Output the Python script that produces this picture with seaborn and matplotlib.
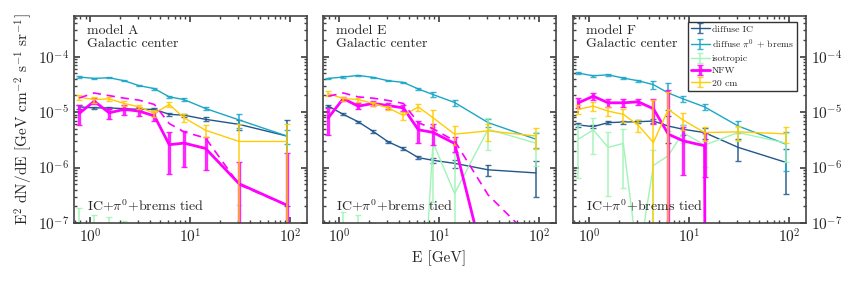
import matplotlib
matplotlib.use("Agg")
import numpy as np
import pandas as pd
import matplotlib.pyplot as plt
from matplotlib.lines import Line2D
import seaborn as sns

# ── Data ──────────────────────────────────────────────────────────────
E_GEV = [0.78, 1.1, 1.55, 2.2, 3.1, 4.4, 6.2, 8.7, 14.3, 31, 93]
ZERO = 1e-200  # bins with no flux

# model A
A_IC = [1.24e-5, 1.19e-5, 1.19e-5, 1.15e-5, 1.12e-5, 1.12e-5, 9.1e-6, 8.8e-6, 7.4e-6, 6.0e-6, 3.7e-6]
A_IC_ERR = [1.0e-6, 5e-7, 5e-7, 5e-7, 5e-7, 5e-7, 5e-7, 6e-7, 6e-7, 1.3e-6, 3.5e-6]
A_PI = [4.28e-5, 4.05e-5, 4.16e-5, 3.67e-5, 2.99e-5, 2.65e-5, 1.88e-5, 1.68e-5, 1.16e-5, 7.2e-6, 3.7e-6]
A_PI_ERR = [1.5e-6, 1.2e-6, 1.2e-6, 1.0e-6, 8e-7, 1e-6, 1e-6, 1e-6, 8e-7, 2e-6, 1e-6]
A_ISO = [4e-8, 3e-8, 3e-8, 2e-8, 1e-8, 1e-8, 1e-8, 1e-8, 1e-8, 5e-8, 2e-8]
A_ISO_ERR = [1.5e-7, 1.1e-7, 1.0e-7, 9e-8, 0, 0, 0, 0, 0, 1.6e-7, 0]
A_NFW = [9.5e-6, 1.57e-5, 9.7e-6, 1.12e-5, 1.04e-5, 8.5e-6, 2.58e-6, 2.76e-6, 2.21e-6, 5.1e-7, 2.1e-7]
A_NFW_ERR = [3.7e-6, 2e-6, 2.2e-6, 2.2e-6, 2e-6, 1.5e-6, 1.8e-6, 1.75e-6, 1.3e-6, 7.7e-7, 1.6e-6]
A_NFW_MODEL = [1.8e-5, 2.21e-5, 1.98e-5, 1.78e-5, 1.64e-5, 1.37e-5, 6.2e-6, 4.4e-6, 3.4e-6, 4.9e-7, 2.1e-7]
A_CM20 = [1.85e-5, 1.68e-5, 1.73e-5, 1.43e-5, 1.24e-5, 9.5e-6, 1.37e-5, 7.9e-6, 4.7e-6, 2.95e-6, 2.95e-6]
A_CM20_ERR = [2e-6, 2e-6, 1.5e-6, 1.3e-6, 1.2e-6, 1.3e-6, 1.5e-6, 1.4e-6, 1.1e-6, 3.2e-6, 3.2e-6]

# model E
E_IC = [1.28e-5, 9.1e-6, 6.7e-6, 4.46e-6, 2.91e-6, 2.18e-6, 1.51e-6, 1.35e-6, 1.19e-6, 9.1e-7, 8.0e-7]
E_IC_ERR = [6e-7, 4e-7, 3e-7, 2e-7, 1.5e-7, 1.2e-7, 1e-7, 1.5e-7, 2e-7, 2.2e-7, 5e-7]
E_PI = [4.05e-5, 4.28e-5, 4.58e-5, 4.22e-5, 3.67e-5, 3.43e-5, 2.61e-5, 2.07e-5, 1.49e-5, 6.45e-6, 3.25e-6]
E_PI_ERR = [1.2e-6, 1.2e-6, 1.2e-6, 1e-6, 1e-6, 1e-6, 1.5e-6, 2e-6, 1.8e-6, 1e-6, 1e-6]
E_ISO = [1e-8, 3e-8, 3e-8, 2e-8, 1e-8, 1e-8, 1e-10, 2.84e-6, 3.4e-7, 4.9e-6, 2.76e-6]
E_ISO_ERR = [0, 1.3e-7, 1.1e-7, 8e-8, 0, 0, 0, 2.6e-6, 1.5e-6, 2.8e-6, 1.7e-6]
E_NFW = [7.9e-6, 1.75e-5, 1.28e-5, 1.43e-5, 1.31e-5, 1.19e-5, 4.8e-6, 4.3e-6, 2.72e-6, 1e-8, ZERO]
E_NFW_ERR = [4e-6, 1.5e-6, 1.5e-6, 1.5e-6, 1.5e-6, 1.5e-6, 2e-6, 1.8e-6, 8e-7, 0, 0]
E_NFW_MODEL = [1.93e-5, 2.21e-5, 1.88e-5, 1.78e-5, 1.62e-5, 1.43e-5, 6.45e-6, 5.0e-6, 3.03e-6, 3.2e-7, 4.5e-8]
E_CM20 = [2.16e-5, 1.75e-5, 1.68e-5, 1.43e-5, 1.19e-5, 8.7e-6, 1.24e-5, 7.9e-6, 4.0e-6, 4.58e-6, 3.7e-6]
E_CM20_ERR = [2e-6, 1.5e-6, 1.3e-6, 1.2e-6, 1.2e-6, 1.5e-6, 1.8e-6, 3e-6, 1.5e-6, 1.6e-6, 1.5e-6]

# model F
F_IC = [5.86e-6, 5.47e-6, 6.45e-6, 6.6e-6, 6.7e-6, 6.9e-6, 5.6e-6, 4.9e-6, 4.27e-6, 2.31e-6, 1.24e-6]
F_IC_ERR = [4e-7, 4e-7, 4e-7, 4e-7, 4e-7, 5e-7, 2.8e-6, 1e-6, 1e-6, 1.0e-6, 9e-7]
F_PI = [5.04e-5, 4.51e-5, 4.7e-5, 4.1e-5, 3.67e-5, 3.12e-5, 2.21e-5, 1.73e-5, 1.24e-5, 5.6e-6, 2.65e-6]
F_PI_ERR = [2e-6, 1.5e-6, 1.5e-6, 1.5e-6, 1.2e-6, 5e-6, 1.1e-5, 2e-6, 1.5e-6, 1.4e-6, 1.8e-6]
F_ISO = [3.25e-6, 4.77e-6, 2.31e-6, 2.72e-6, 2e-8, 1.09e-6, 1.64e-6, 4.27e-6, 2.54e-6, 4.27e-6, 2.76e-6]
F_ISO_ERR = [2.6e-6, 3e-6, 2.0e-6, 2.3e-6, 1e-8, 1e-6, 3e-6, 1.5e-6, 1.5e-6, 1.2e-6, 1.5e-6]
F_NFW = [1.47e-5, 1.93e-5, 1.47e-5, 1.47e-5, 1.53e-5, 1.15e-5, 4.0e-6, 3.03e-6, 2.47e-6, ZERO, ZERO]
F_NFW_ERR = [3e-6, 2.6e-6, 2.4e-6, 2.6e-6, 2e-6, 5.5e-6, 2.1e-5, 2.3e-6, 1.8e-6, 0, 0]
F_CM20 = [1.12e-5, 1.28e-5, 1.04e-5, 9.1e-6, 5.8e-6, 2.83e-6, 1.12e-5, 7.2e-6, 4.27e-6, 4.4e-6, 4.05e-6]
F_CM20_ERR = [2e-6, 2.5e-6, 2e-6, 2.5e-6, 1.5e-6, 1.4e-5, 1.2e-5, 2.5e-6, 1.2e-6, 1.3e-6, 1.3e-6]

MODELS = ["A", "E", "F"]
LABELS = ["diffuse IC", r"diffuse $\pi^0$ + brems", "isotropic", "NFW", "20 cm"]
COLORS = ["#21578a", "#1aa6c7", "#a0f4b6", "#ff00ff", "#ffcc00"]
WIDTHS = [1.0, 1.0, 1.0, 2.0, 1.0]

PANELS = [
    ([A_IC, A_PI, A_ISO, A_NFW, A_CM20],
     [A_IC_ERR, A_PI_ERR, A_ISO_ERR, A_NFW_ERR, A_CM20_ERR], A_NFW_MODEL),
    ([E_IC, E_PI, E_ISO, E_NFW, E_CM20],
     [E_IC_ERR, E_PI_ERR, E_ISO_ERR, E_NFW_ERR, E_CM20_ERR], E_NFW_MODEL),
    ([F_IC, F_PI, F_ISO, F_NFW, F_CM20],
     [F_IC_ERR, F_PI_ERR, F_ISO_ERR, F_NFW_ERR, F_CM20_ERR], None),
]

# ── Style ─────────────────────────────────────────────────────────────
sns.set_theme(style="ticks")
plt.rcParams["font.family"] = "serif"
plt.rcParams["font.serif"] = ["cmr10", "DejaVu Serif"]
plt.rcParams["mathtext.fontset"] = "cm"
plt.rcParams["axes.formatter.use_mathtext"] = True
plt.rcParams["axes.unicode_minus"] = False

fig = plt.figure(figsize=(8.58, 2.86), dpi=100)
lefts = [74, 323, 573]
axes = [fig.add_axes([l / 858, 1 - 223 / 286, 233 / 858, 207 / 286]) for l in lefts]

for i, (ax, model, (vals, errs, dashed)) in enumerate(zip(axes, MODELS, PANELS)):
    handles = []
    for y, err, color, lw, label in zip(vals, errs, COLORS, WIDTHS, LABELS):
        df = pd.DataFrame({"E": E_GEV, "flux": y})
        sns.lineplot(data=df, x="E", y="flux", color=color, lw=lw, ax=ax,
                     estimator=None, sort=False, legend=False)
        cont = ax.errorbar(E_GEV, y, yerr=err, fmt="none", ecolor=color,
                           elinewidth=lw * 1.2, capsize=2.5, capthick=1.0, alpha=0.85)
        handles.append((Line2D([], [], color=color, lw=lw), cont))
    if dashed is not None:
        df = pd.DataFrame({"E": E_GEV, "flux": dashed})
        sns.lineplot(data=df, x="E", y="flux", color=COLORS[3], lw=1.2,
                     ax=ax, estimator=None, sort=False, legend=False)
        ax.lines[-1].set_dashes([5, 3.5])

    ax.set_xscale("log")
    ax.set_yscale("log")
    ax.set_xlim(0.69, 148)
    ax.set_ylim(1e-7, 5.4e-4)
    ax.set_xlabel("")
    ax.set_ylabel("")
    ax.tick_params(which="both", direction="in", top=True, right=True, left=True,
                   labelsize=11, color="#444444")
    ax.tick_params(which="major", length=4)
    ax.tick_params(which="minor", length=2)
    for sp in ax.spines.values():
        sp.set_color("#444444")
        sp.set_linewidth(1.2)

    ax.text(0.056, 0.955, f"model {model}\nGalactic center", transform=ax.transAxes,
            ha="left", va="top", fontsize=10, linespacing=1.0)
    ax.text(0.056, 0.04, r"IC+$\pi^0$+brems tied", transform=ax.transAxes,
            ha="left", va="bottom", fontsize=10)

    if i == 0:
        ax.set_ylabel(r"E$^2$ dN/dE [GeV cm$^{-2}$ s$^{-1}$ sr$^{-1}$]", fontsize=11, labelpad=2)
    elif i == 1:
        ax.tick_params(labelleft=False)
        ax.set_xlabel("E [GeV]", fontsize=11, labelpad=3)
    else:
        ax.tick_params(labelleft=False, labelright=True)
        leg = ax.legend(handles, LABELS, loc="upper right", bbox_to_anchor=(0.961, 0.971),
                        borderaxespad=0, fontsize=7, frameon=True, fancybox=False,
                        edgecolor="black", handlelength=2.0, handletextpad=0.2,
                        labelspacing=0.35, borderpad=0.3)
        leg.get_frame().set_linewidth(1.0)

fig.savefig("out.png", dpi=100)
